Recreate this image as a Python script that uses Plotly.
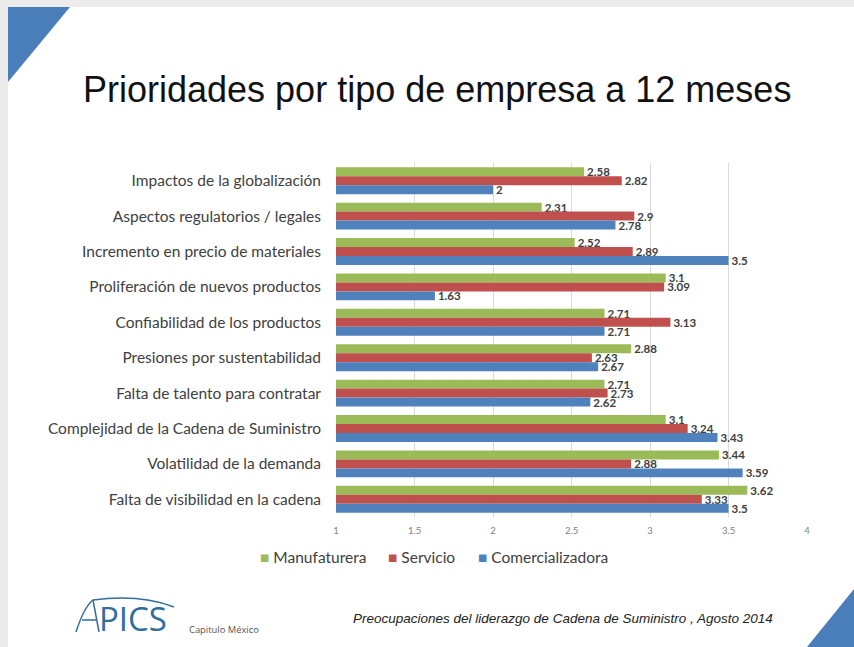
import plotly.graph_objects as go

categorias = [
    "Impactos de la globalización",
    "Aspectos regulatorios / legales",
    "Incremento en precio de materiales",
    "Proliferación de nuevos productos",
    "Confiabilidad de los productos",
    "Presiones por sustentabilidad",
    "Falta de talento para contratar",
    "Complejidad de la Cadena de Suministro",
    "Volatilidad de la demanda",
    "Falta de visibilidad en la cadena",
]
manufaturera = [2.58, 2.31, 2.52, 3.1, 2.71, 2.88, 2.71, 3.1, 3.44, 3.62]
servicio = [2.82, 2.9, 2.89, 3.09, 3.13, 2.63, 2.73, 3.24, 2.88, 3.33]
comercializadora = [2, 2.78, 3.5, 1.63, 2.71, 2.67, 2.62, 3.43, 3.59, 3.5]
ticks = [1, 1.5, 2, 2.5, 3, 3.5, 4]

series = [
    ("Manufaturera", manufaturera, "#9BBB59"),
    ("Servicio", servicio, "#C0504D"),
    ("Comercializadora", comercializadora, "#4F81BD"),
]

W, H = 854, 647
L, R, T, B = 336, 47, 163, 130
PW, PH = W - L - R, H - T - B


def px(x):
    return (x - L) / PW


def py(y):
    return (H - B - y) / PH


fig = go.Figure()
for name, vals, color in series:
    fig.add_trace(go.Bar(
        y=categorias, x=vals, name=name, orientation="h",
        marker=dict(color=color, line=dict(width=0)),
        text=[f"{v:g}" for v in vals], textposition="outside", constraintext="none",
        textfont=dict(family="Lato", size=11.5, color="#404040", weight="bold"),
        cliponaxis=False, showlegend=False,
    ))

shapes = [
    # slide frame
    dict(type="rect", xref="paper", yref="paper", x0=px(0), x1=px(W), y0=py(0), y1=py(7),
         fillcolor="#ebebeb", line=dict(width=0), layer="below"),
    dict(type="rect", xref="paper", yref="paper", x0=px(0), x1=px(8), y0=py(0), y1=py(H),
         fillcolor="#ebebeb", line=dict(width=0), layer="below"),
    # corner triangles
    dict(type="path", xref="paper", yref="paper",
         path=f"M {px(8)} {py(7)} L {px(70)} {py(7)} L {px(8)} {py(82)} Z",
         fillcolor="#4A7EBB", line=dict(width=0)),
    dict(type="path", xref="paper", yref="paper",
         path=f"M {px(807)} {py(647)} L {px(854)} {py(589)} L {px(854)} {py(647)} Z",
         fillcolor="#4A7EBB", line=dict(width=0)),
    # APICS swoosh + the "A"
    dict(type="path", xref="paper", yref="paper",
         path=f"M {px(76)} {py(632)} Q {px(84)} {py(607)} {px(93)} {py(600)} "
              f"Q {px(140)} {py(594)} {px(174)} {py(607)}",
         line=dict(color="#2F6E9F", width=1.5)),
    dict(type="path", xref="paper", yref="paper",
         path=f"M {px(93)} {py(600)} L {px(99)} {py(632)} M {px(82)} {py(620)} L {px(97)} {py(620)}",
         line=dict(color="#2F6E9F", width=1.5)),
]

annotations = [
    dict(text="Prioridades por tipo de empresa a 12 meses", xref="paper", yref="paper",
         x=px(437), y=py(89), xanchor="center", yanchor="middle", showarrow=False,
         font=dict(family="Liberation Sans", size=36, color="#111111")),
    dict(text="<i>Preocupaciones del liderazgo de Cadena de Suministro , Agosto 2014</i>",
         xref="paper", yref="paper", x=px(351), y=py(618), xanchor="left", yanchor="middle",
         showarrow=False, font=dict(family="Liberation Sans", size=13.5, color="#222222")),
    dict(text="PICS", xref="paper", yref="paper", x=px(97), y=py(618), xanchor="left",
         yanchor="middle", showarrow=False,
         font=dict(family="Open Sans", size=33, color="#2F6E9F", weight=400)),
    dict(text="Capitulo México", xref="paper", yref="paper", x=px(187), y=py(629),
         xanchor="left", yanchor="middle", showarrow=False,
         font=dict(family="Open Sans", size=9.4, color="#555555")),
]

# legend drawn as coloured squares plus labels
legend_x = [260, 388, 478]
for (name, _, color), lx in zip(series, legend_x):
    annotations.append(dict(
        text=f"<span style='color:{color}'>■</span> {name}", xref="paper", yref="paper",
        x=px(lx - 2), y=py(557), xanchor="left", yanchor="middle", showarrow=False,
        font=dict(family="Lato", size=15.5, color="#404040")))

fig.update_layout(
    width=W, height=H,
    margin=dict(l=L, r=R, t=T, b=B),
    paper_bgcolor="white", plot_bgcolor="white",
    barmode="group", bargap=0.24, bargroupgap=0,
    showlegend=False,
    font=dict(family="Lato"),
    shapes=shapes, annotations=annotations,
)
fig.update_xaxes(range=[1, 4], tickvals=ticks, ticktext=[f"{t:g}" for t in ticks],
                 showgrid=True, gridcolor="#d9d9d9", gridwidth=1, zeroline=False,
                 showline=False, ticklabelstandoff=6,
                 tickfont=dict(family="Lato", size=9.5, color="#808080"))
fig.update_yaxes(autorange="reversed", showgrid=False, zeroline=False, showline=False,
                 ticks="", ticklabelstandoff=14,
                 tickfont=dict(family="Lato", size=15.5, color="#404040"))

fig.write_html("out.html", config={"displayModeBar": False},
               post_script="document.body.style.margin='0';")
